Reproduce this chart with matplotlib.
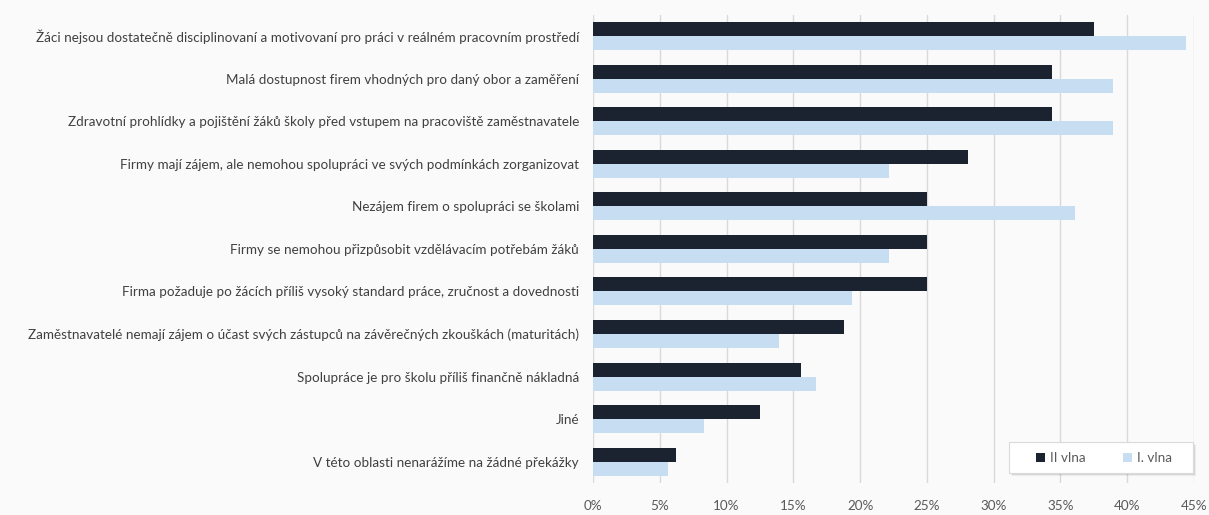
import matplotlib.pyplot as plt
import numpy as np
from matplotlib.ticker import FuncFormatter
from matplotlib.patches import Rectangle

categories = [
    "Žáci nejsou dostatečně disciplinovaní a motivovaní pro práci v reálném pracovním prostředí",
    "Malá dostupnost firem vhodných pro daný obor a zaměření",
    "Zdravotní prohlídky a pojištění žáků školy před vstupem na pracoviště zaměstnavatele",
    "Firmy mají zájem, ale nemohou spolupráci ve svých podmínkách zorganizovat",
    "Nezájem firem o spolupráci se školami",
    "Firmy se nemohou přizpůsobit vzdělávacím potřebám žáků",
    "Firma požaduje po žácích příliš vysoký standard práce, zručnost a dovednosti",
    "Zaměstnavatelé nemají zájem o účast svých zástupců na závěrečných zkouškách (maturitách)",
    "Spolupráce je pro školu příliš finančně nákladná",
    "Jiné",
    "V této oblasti nenarážíme na žádné překážky",
]
wave2 = [37.5, 34.4, 34.4, 28.1, 25.0, 25.0, 25.0, 18.8, 15.6, 12.5, 6.25]
wave1 = [44.4, 38.9, 38.9, 22.2, 36.1, 22.2, 19.4, 13.9, 16.7, 8.3, 5.6]
xticks = [0, 5, 10, 15, 20, 25, 30, 35, 40, 45]

dark = "#1c2330"
light = "#c6ddf2"
bg = "#fafafa"

plt.rcParams['font.family'] = ['Lato', 'DejaVu Sans']

W, H = 1209, 515
fig = plt.figure(figsize=(W/100, H/100), dpi=100, facecolor=bg)
ax = fig.add_axes([593/W, 1 - 483/H, (1194 - 593)/W, (483 - 14.7)/H])
ax.set_facecolor(bg)

y = np.arange(len(categories))
h = 0.33
ax.barh(y - h/2, wave2, height=h, color=dark, label="II vlna", zorder=3)
ax.barh(y + h/2, wave1, height=h, color=light, label="I. vlna", zorder=3)

ax.set_yticks(y)
ax.set_yticklabels(categories, fontsize=9.7, color="#404040")
ax.set_ylim(len(categories) - 0.5, -0.5)
ax.set_xlim(0, 45)
ax.set_xticks(xticks)
ax.xaxis.set_major_formatter(FuncFormatter(lambda v, p: f"{int(v)}%"))
ax.tick_params(axis='x', labelsize=9.7, labelcolor="#595959", length=0, pad=12)
ax.tick_params(axis='y', length=0, pad=10)
ax.grid(axis='x', color="#d9d9d9", linewidth=1, zorder=0)
for s in ax.spines.values():
    s.set_visible(False)

# legend box with soft shadow
bx0, by0, bx1, by1 = 1009, 442, 1193, 473
for k, a in [(3, 0.06), (2, 0.08), (1, 0.1)]:
    fig.patches.append(Rectangle(((bx0 + k)/W, 1 - (by1 + k)/H), (bx1 - bx0)/W, (by1 - by0)/H,
                                 transform=fig.transFigure, facecolor="black", alpha=a,
                                 edgecolor="none", zorder=4))
fig.patches.append(Rectangle((bx0/W, 1 - by1/H), (bx1 - bx0)/W, (by1 - by0)/H,
                             transform=fig.transFigure, facecolor="white",
                             edgecolor="#d9d9d9", linewidth=0.8, zorder=5))

leg = fig.legend(loc='center', bbox_to_anchor=(1104/W, 1 - 458/H), ncol=2, fontsize=9.7,
                 frameon=False, handlelength=0.7, handleheight=0.7, columnspacing=2.7,
                 handletextpad=0.4, labelcolor="#595959")
leg.set_zorder(6)

fig.savefig("out.png", dpi=100, facecolor=bg)
